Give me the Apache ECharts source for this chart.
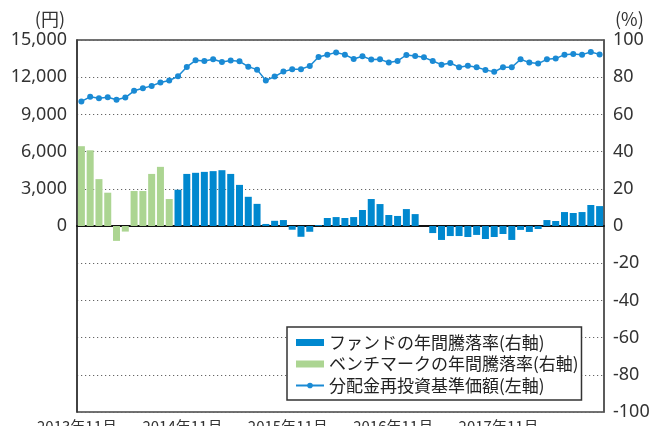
<!DOCTYPE html>
<html>
<head>
<meta charset="utf-8">
<script src="https://cdn.jsdelivr.net/npm/echarts@6/dist/echarts.min.js"></script>
<style>
html,body{margin:0;padding:0;background:#fff;}
#chart{width:651px;height:426px;}
</style>
</head>
<body>
<div id="chart"></div>
<script>
var categories = [
'2013/11','2013/12','2014/01','2014/02','2014/03','2014/04','2014/05','2014/06','2014/07','2014/08','2014/09','2014/10',
'2014/11','2014/12','2015/01','2015/02','2015/03','2015/04','2015/05','2015/06','2015/07','2015/08','2015/09','2015/10',
'2015/11','2015/12','2016/01','2016/02','2016/03','2016/04','2016/05','2016/06','2016/07','2016/08','2016/09','2016/10',
'2016/11','2016/12','2017/01','2017/02','2017/03','2017/04','2017/05','2017/06','2017/07','2017/08','2017/09','2017/10',
'2017/11','2017/12','2018/01','2018/02','2018/03','2018/04','2018/05','2018/06','2018/07','2018/08','2018/09','2018/10'
];
var tickLabels = ['2013年11月','2014年11月','2015年11月','2016年11月','2017年11月'];
var fundReturn = [
null,null,null,null,null,null,null,null,null,null,null,19.5,
28.0,28.6,29.1,29.5,30.0,28.0,22.1,15.7,11.9,1.1,2.8,3.2,
-2.0,-5.8,-3.1,0.5,4.3,4.8,4.3,4.8,8.6,14.5,11.8,5.9,
5.4,9.1,6.4,0,-3.8,-7.5,-5.4,-5.4,-5.9,-4.8,-7.0,-5.9,
-4.3,-7.5,-2.1,-3.2,-1.6,3.2,2.7,7.5,7.0,7.5,11.3,10.7
];
var benchReturn = [
42.9,40.7,25.2,17.9,-8.0,-3.0,18.8,18.8,28.0,31.8,14.5,null,
null,null,null,null,null,null,null,null,null,null,null,null,
null,null,null,null,null,null,null,null,null,null,null,null,
null,null,null,null,null,null,null,null,null,null,null,null,
null,null,null,null,null,null,null,null,null,null,null,null
];
var navValues = [
10050,10420,10310,10390,10180,10360,10900,11110,11300,11570,11730,12080,
12830,13360,13310,13440,13230,13340,13280,12850,12610,11730,12050,12450,
12640,12640,12910,13630,13810,14000,13820,13470,13690,13420,13440,13180,
13310,13790,13710,13600,13310,13010,13150,12800,12930,12800,12590,12430,
12800,12800,13440,13180,13100,13440,13500,13820,13870,13820,14030,13840
];
var seriesNames = ['ファンドの年間騰落率(右軸)','ベンチマークの年間騰落率(右軸)','分配金再投資基準価額(左軸)'];

var numFont = 'Noto Sans, Noto Sans CJK JP, sans-serif';
var jpFont = 'Noto Sans CJK JP, sans-serif';
function commas(v){ return String(v).replace(/\B(?=(\d{3})+(?!\d))/g, ','); }

var chart = echarts.init(document.getElementById('chart'), null, {renderer:'canvas'});
chart.setOption({
  animation:false,
  backgroundColor:'#fff',
  grid:{left:77,right:47,top:40,bottom:14,outerBoundsMode:'none',containLabel:false,
        show:true,borderColor:'#444',borderWidth:1.5,backgroundColor:'transparent'},
  legend:{
    orient:'vertical', left:287, top:327,
    backgroundColor:'#fff', borderColor:'#333', borderWidth:1.5,
    padding:[7,3,6,8], itemGap:4.5, itemWidth:28, itemHeight:7,
    textStyle:{fontFamily:jpFont,fontSize:17,color:'#222'},
    data:[
      {name:seriesNames[0],icon:'rect'},
      {name:seriesNames[1],icon:'rect'},
      {name:seriesNames[2]}
    ]
  },
  xAxis:[
    {type:'category',data:categories,boundaryGap:true,
     axisLine:{show:true,onZero:true,lineStyle:{color:'#111',width:2}},
     axisTick:{show:false},axisLabel:{show:false},splitLine:{show:false}},
    {type:'value',min:0,max:60,interval:12,position:'bottom',
     axisLine:{show:false,onZero:false},axisTick:{show:false},splitLine:{show:false},
     axisLabel:{show:true,margin:7,fontFamily:jpFont,fontSize:15,color:'#333',
       formatter:function(v){var i=Math.round(v/12);return tickLabels[i]||'';}}}
  ],
  yAxis:[
    {type:'value',min:-15000,max:15000,interval:3000,position:'left',
     name:'(円)',nameLocation:'end',nameGap:12,
     nameTextStyle:{fontFamily:jpFont,fontSize:18,color:'#333',align:'right',padding:[0,12,0,0]},
     axisLine:{show:true,lineStyle:{color:'#333',width:1.5}},axisTick:{show:false},
     splitLine:{show:false},
     axisLabel:{margin:10,fontFamily:numFont,fontSize:18,color:'#333',
       formatter:function(v){return v<0?'':commas(v);}}},
    {type:'value',min:-100,max:100,interval:20,position:'right',
     name:'(%)',nameLocation:'end',nameGap:12,
     nameTextStyle:{fontFamily:jpFont,fontSize:18,color:'#333',align:'left',padding:[0,0,0,11]},
     axisLine:{show:true,lineStyle:{color:'#555',width:1.5}},axisTick:{show:false},
     splitLine:{show:true,lineStyle:{color:'#666',width:1.2,type:[1.2,2.8]}},
     axisLabel:{margin:9,fontFamily:numFont,fontSize:18,color:'#333'}}
  ],
  series:[
    {name:seriesNames[0],type:'bar',xAxisIndex:0,yAxisIndex:1,data:fundReturn,
     barWidth:7,barGap:'-100%',itemStyle:{color:'#0088cf'},z:2},
    {name:seriesNames[1],type:'bar',xAxisIndex:0,yAxisIndex:1,data:benchReturn,
     barWidth:7,barGap:'-100%',itemStyle:{color:'#acd592'},z:2},
    {name:seriesNames[2],type:'line',xAxisIndex:0,yAxisIndex:0,data:navValues,
     symbol:'circle',symbolSize:6,showSymbol:true,showAllSymbol:true,
     lineStyle:{color:'#1a8ad4',width:1.5},itemStyle:{color:'#1a8ad4'},z:3}
  ]
});
</script>
</body>
</html>
